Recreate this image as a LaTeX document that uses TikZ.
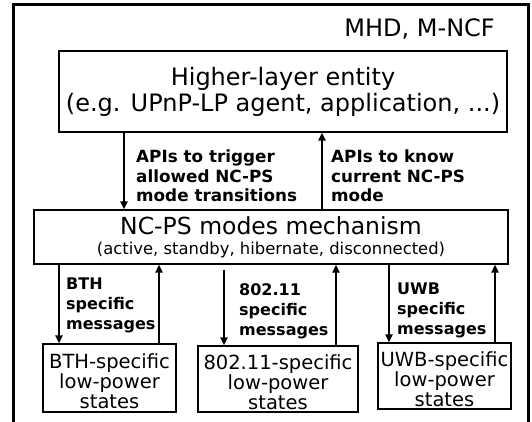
\documentclass[tikz,border=0pt]{standalone}
\usepackage{fontspec}
\setmainfont{DejaVu Sans}
\usetikzlibrary{arrows.meta}
\begin{document}
\begin{tikzpicture}[x=1pt,y=-1pt,
  box/.style={draw,line width=1.2pt,inner sep=0pt,align=center},
  arr/.style={line width=2pt,-{Triangle[length=8pt,width=7pt]}},
  lbl/.style={font=\fontsize{16.8}{19.5}\selectfont\bfseries,align=left,anchor=north west,inner sep=0pt},
  slbl/.style={lbl,font=\fontsize{16}{20}\selectfont\bfseries},
  big/.style={font=\fontsize{24}{26}\selectfont},
  small/.style={font=\fontsize{19.5}{20}\selectfont}]
\useasboundingbox (0,0) rectangle (532,421);
\draw[line width=3pt] (13.5,425) -- (13.5,4.5) -- (528.5,4.5) -- (528.5,425);
\node[anchor=base east,big,inner sep=0pt] (title) at (495,36) {MHD, M-NCF};
\node[box,big,minimum width=448pt,minimum height=81pt] (hl) at (283,91.5)
  {Higher-layer entity\\(e.g. UPnP-LP agent, application, ...)};
\node[box,font=\fontsize{23.5}{20}\selectfont,minimum width=474pt,minimum height=54pt] (nc) at (271,237)
  {NC-PS modes mechanism\\{\fontsize{16.4}{20}\selectfont (active, standby, hibernate, disconnected)}};
\node[box,small,minimum width=133pt,minimum height=68pt] (bth) at (109.5,378) {\rule{0pt}{22pt}BTH-specific\\low-power\\states};
\node[box,small,minimum width=160pt,minimum height=66pt] (wifi) at (278,379) {\rule{0pt}{22pt}802.11-specific\\low-power\\states};
\node[box,small,minimum width=133pt,minimum height=66pt] (uwb) at (444.5,376) {\rule{0pt}{22pt}UWB-specific\\low-power\\states};
\coordinate (a1) at (124,0);
\coordinate (a2) at (322,0);
\coordinate (b1) at (59,0);
\coordinate (b2) at (159,0);
\coordinate (c1) at (224,0);
\coordinate (c2) at (336,0);
\coordinate (d1) at (389,0);
\coordinate (d2) at (495,0);
\draw[arr] (hl.south -| a1) -- (nc.north -| a1);
\draw[arr] (nc.north -| a2) -- (hl.south -| a2);
\draw[arr] (nc.south -| b1) -- (bth.north -| b1);
\draw[arr] (bth.north -| b2) -- (nc.south -| b2);
\draw[arr,shorten <=5pt] (nc.south -| c1) -- (wifi.north -| c1);
\draw[arr] (wifi.north -| c2) -- (nc.south -| c2);
\draw[arr] (nc.south -| d1) -- (uwb.north -| d1);
\draw[arr] (uwb.north -| d2) -- (nc.south -| d2);
\node[lbl] (l1) at (136,150) {APIs to trigger\\allowed NC-PS\\mode transitions};
\node[lbl] (l2) at (331,150) {APIs to know\\current NC-PS\\mode};
\node[slbl] (l3) at (66,278) {BTH\\specific\\messages};
\node[slbl] (l4) at (239,283) {802.11\\specific\\messages};
\node[slbl] (l5) at (397,283) {UWB\\specific\\messages};
\end{tikzpicture}
\end{document}
